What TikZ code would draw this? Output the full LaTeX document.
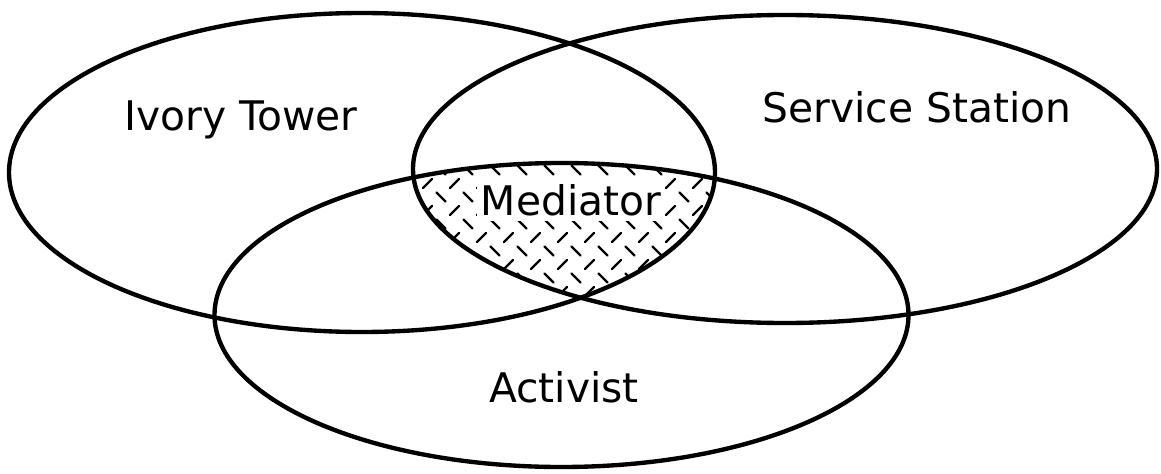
\documentclass[tikz,border=0pt]{standalone}
\usepackage{fontspec}
\setmainfont{DejaVu Sans}
\usetikzlibrary{positioning}

\begin{document}
\begin{tikzpicture}[
            x=0.025cm, y=-0.025cm,
            ring/.style={draw=black, line width=3.1pt},
            hatch/.style={black, line width=1.7pt, line cap=round},
            role/.style={anchor=base, inner sep=0pt, font=\fontsize{29}{34}\selectfont},
            mid/.style={role, fill=white, inner xsep=3pt, inner ysep=4pt}
        ]
            \useasboundingbox (0,0) rectangle (1161,473);

            % --- Ellipsen ---
            \def\ivorypath{(362,172.5) ellipse [x radius=353, y radius=159.5]}
            \def\servicepath{(785,169) ellipse [x radius=372, y radius=154]}
            \def\activistpath{(561.5,315) ellipse [x radius=347, y radius=152]}

            % --- Schraffur der Schnittmenge ---
            \begin{scope}
              \clip \ivorypath;
              \clip \servicepath;
              \clip \activistpath;
              \foreach \i in {0,...,11} {
                \foreach \j in {0,...,5} {
                  \pgfmathsetmacro\hx{414+27*\i}
                  \pgfmathsetmacro\hy{170+27*\j}
                  \draw[hatch] (\hx-4.5,\hy-4.5) -- (\hx+4.5,\hy+4.5);
                  \draw[hatch] (\hx+9,\hy+18) -- (\hx+18,\hy+9);
                }
              }
            \end{scope}

            \draw[ring] \ivorypath;
            \draw[ring] \servicepath;
            \draw[ring] \activistpath;

            % --- Beschriftung ---
            \node[role] (ivory) at (241,130) {Ivory Tower};
            \node[role] (service) at (917,122) {Service Station};
            \node[mid] (mediator) at (571,215) {Mediator};
            \node[role] (activist) at (564,402) {Activist};

\end{tikzpicture}
\end{document}
